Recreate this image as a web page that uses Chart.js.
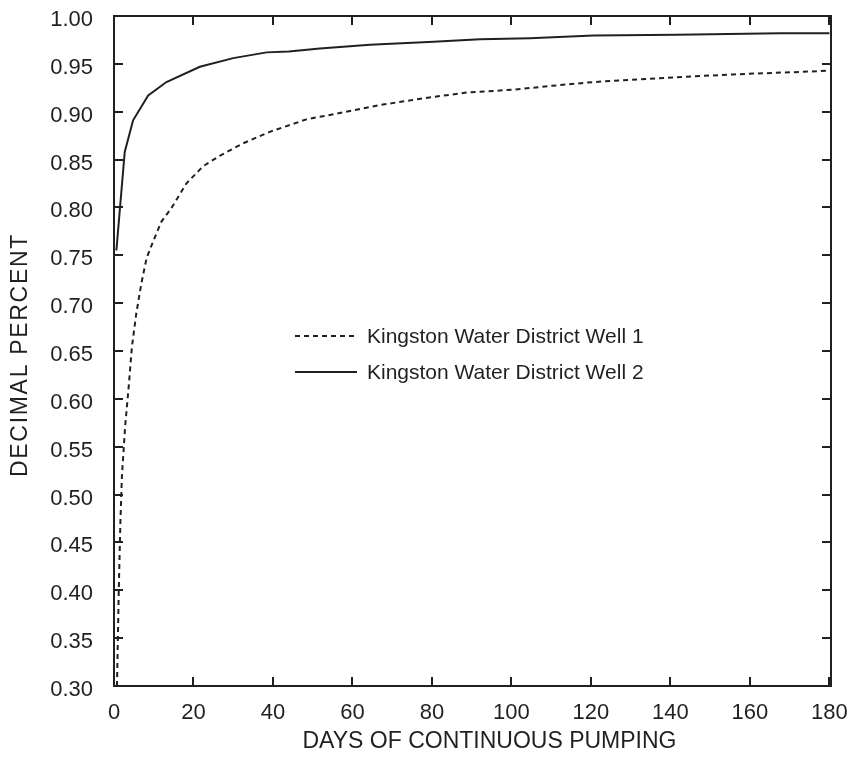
<!DOCTYPE html>
<html>
<head>
<meta charset="utf-8">
<script src="https://cdn.jsdelivr.net/npm/chart.js@4/dist/chart.umd.min.js"></script>
<style>
  html, body { margin: 0; padding: 0; background: #ffffff; }
  #c { display: block; }
</style>
</head>
<body>
<canvas id="c" width="849" height="757"></canvas>
<script>
// Fraction of full yield vs. days of continuous pumping, two Kingston wells.
const well1Label = 'Kingston Water District Well 1';
const well1Days = [0.75, 1.2, 1.6, 2.0, 2.8, 3.7, 4.5, 5.6, 6.9, 8.2, 9.8, 11.9, 14.4, 18.2, 22.4, 26.6, 32.5, 39.2, 48.4, 56.0, 66.9, 77.8, 88.7, 100.5, 110, 120.6, 141.6, 155.8, 175.2, 180];
const well1Values = [0.30, 0.40, 0.47, 0.52, 0.571, 0.613, 0.654, 0.689, 0.721, 0.747, 0.764, 0.785, 0.799, 0.825, 0.843, 0.854, 0.867, 0.879, 0.892, 0.898, 0.907, 0.914, 0.920, 0.923, 0.927, 0.931, 0.936, 0.939, 0.942, 0.943];

const well2Label = 'Kingston Water District Well 2';
const well2Days = [0.6, 2.7, 4.8, 8.6, 13.2, 21.6, 30, 38.4, 44, 51.8, 64.4, 80.4, 92.1, 104.7, 120.6, 141.6, 167.6, 180];
const well2Values = [0.755, 0.858, 0.891, 0.917, 0.931, 0.947, 0.956, 0.962, 0.963, 0.966, 0.970, 0.973, 0.9756, 0.9767, 0.9795, 0.9805, 0.9819, 0.982];

const xTickValues = [0, 20, 40, 60, 80, 100, 120, 140, 160, 180];
const yTickValues = [0.30, 0.35, 0.40, 0.45, 0.50, 0.55, 0.60, 0.65, 0.70, 0.75, 0.80, 0.85, 0.90, 0.95, 1.00];

const xTitle = 'DAYS OF CONTINUOUS PUMPING';
const yTitle = 'DECIMAL PERCENT';

const INK = '#231f20';
const FONT = '"Liberation Sans", Arial, Helvetica, sans-serif';

function toPoints(xs, ys) {
  return xs.map((d, i) => ({ x: d, y: ys[i] }));
}

// Keep tick labels from pushing the plot edges inward.
function noOverhang(s) {
  s.paddingTop = 0; s.paddingBottom = 0; s.paddingLeft = 0; s.paddingRight = 0;
}

// Box round the plot with short inward ticks on all four sides.
const framePlugin = {
  id: 'frame',
  afterDatasetsDraw(chart) {
    const { ctx, chartArea: a, scales: { x, y } } = chart;
    const len = 9;
    ctx.save();
    ctx.strokeStyle = INK;
    ctx.lineWidth = 2;
    ctx.strokeRect(a.left, a.top, a.right - a.left, a.bottom - a.top);
    ctx.beginPath();
    x.ticks.forEach(t => {
      const px = Math.round(x.getPixelForValue(t.value));
      ctx.moveTo(px, a.bottom); ctx.lineTo(px, a.bottom - len);
      ctx.moveTo(px, a.top); ctx.lineTo(px, a.top + len);
    });
    y.ticks.forEach(t => {
      const py = Math.round(y.getPixelForValue(t.value));
      ctx.moveTo(a.left, py); ctx.lineTo(a.left + len, py);
      ctx.moveTo(a.right, py); ctx.lineTo(a.right - len, py);
    });
    ctx.stroke();
    ctx.restore();
  }
};

// Axis titles.
const titlesPlugin = {
  id: 'axisTitles',
  afterDraw(chart) {
    const { ctx, chartArea: a } = chart;
    ctx.save();
    ctx.fillStyle = INK;
    ctx.font = '23px ' + FONT;
    ctx.textAlign = 'center';
    ctx.textBaseline = 'middle';
    ctx.fillText(xTitle, (a.left + a.right) / 2 + 17, a.bottom + 56);
    ctx.translate(a.left - 93, (a.top + a.bottom) / 2 + 4);
    ctx.rotate(-Math.PI / 2);
    ctx.letterSpacing = '1.7px';
    ctx.fillText(yTitle, 0, 0);
    ctx.restore();
  }
};

// Legend inside the plot: line sample followed by the series name.
const legendPlugin = {
  id: 'insetLegend',
  afterDraw(chart) {
    const { ctx, chartArea: a } = chart;
    const x0 = a.left + 181, x1 = a.left + 243, tx = a.left + 253;
    const rows = [a.top + 320, a.top + 356];
    ctx.save();
    ctx.font = '21px ' + FONT;
    ctx.textAlign = 'left';
    ctx.textBaseline = 'middle';
    chart.data.datasets.forEach((ds, i) => {
      const yy = rows[i];
      ctx.strokeStyle = ds.borderColor;
      ctx.lineWidth = ds.borderWidth;
      ctx.setLineDash(ds.borderDash || []);
      ctx.beginPath();
      ctx.moveTo(x0, yy); ctx.lineTo(x1, yy);
      ctx.stroke();
      ctx.setLineDash([]);
      ctx.fillStyle = INK;
      ctx.fillText(ds.label, tx, yy + 1);
    });
    ctx.restore();
  }
};

new Chart(document.getElementById('c'), {
  type: 'line',
  data: {
    datasets: [
      {
        label: well1Label,
        data: toPoints(well1Days, well1Values),
        borderColor: INK,
        borderWidth: 2,
        borderDash: [5, 4],
        pointRadius: 0,
        tension: 0,
        fill: false
      },
      {
        label: well2Label,
        data: toPoints(well2Days, well2Values),
        borderColor: INK,
        borderWidth: 2,
        pointRadius: 0,
        tension: 0,
        fill: false
      }
    ]
  },
  options: {
    responsive: false,
    animation: false,
    layout: { padding: { top: 16, right: 18, left: 0, bottom: 0 } },
    plugins: {
      legend: { display: false },
      tooltip: { enabled: false }
    },
    scales: {
      x: {
        type: 'linear',
        min: 0,
        max: 180.4,
        afterBuildTicks: s => { s.ticks = xTickValues.map(v => ({ value: v })); },
        afterFit: s => { s.height = 71; noOverhang(s); },
        grid: { display: false, drawTicks: false },
        border: { display: false },
        ticks: {
          padding: 14,
          color: INK,
          font: { family: FONT, size: 22 },
          maxRotation: 0,
          autoSkip: false,
          callback: v => String(v)
        }
      },
      y: {
        type: 'linear',
        min: 0.30,
        max: 1.00,
        afterBuildTicks: s => { s.ticks = yTickValues.map(v => ({ value: v })); },
        afterFit: s => { s.width = 114; noOverhang(s); },
        grid: { display: false, drawTicks: false },
        border: { display: false },
        ticks: {
          padding: 21,
          labelOffset: 4,
          color: INK,
          font: { family: FONT, size: 22 },
          autoSkip: false,
          callback: v => Number(v).toFixed(2)
        }
      }
    }
  },
  plugins: [framePlugin, titlesPlugin, legendPlugin]
});
</script>
</body>
</html>
